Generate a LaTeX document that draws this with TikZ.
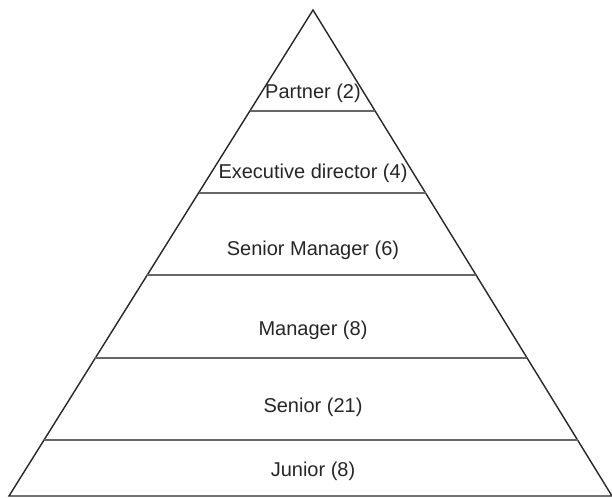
\documentclass[tikz,border=0pt]{standalone}
\usepackage{fontspec}
\setmainfont{Liberation Sans}
\usetikzlibrary{calc, positioning}

\begin{document}
\begin{tikzpicture}[x=0.5pt, y=-0.5pt, font=\normalsize, line width=0.7pt]
    \useasboundingbox (0,0) rectangle (612,498);
    \coordinate (apex) at (313,10);
    \coordinate (base-left) at (9,496);
    \coordinate (base-right) at (612,496);
    \draw[black!85] (base-left) -- (apex) -- (base-right) -- cycle;
    % level dividers
    \foreach \y/\lvl in {111/partner, 193/exec, 275/smanager, 358/manager, 440/senior} {
        \coordinate (\lvl-left) at ($(apex)!{(\y-10)/486}!(base-left)$);
        \coordinate (\lvl-right) at ($(apex)!{(\y-10)/486}!(base-right)$);
        \draw[black!60] (\lvl-left) -- (\lvl-right);
    }
    \node[text=black!85, inner sep=0pt] (partner) at (313,93) {Partner (2)};
    \node[text=black!85, inner sep=0pt] (exec) at (313,173) {Executive director (4)};
    \node[text=black!85, inner sep=0pt] (smanager) at (313,250) {Senior Manager (6)};
    \node[text=black!85, inner sep=0pt] (manager) at (313,330) {Manager (8)};
    \node[text=black!85, inner sep=0pt] (senior) at (313,407) {Senior (21)};
    \node[text=black!85, inner sep=0pt] (junior) at (313,471) {Junior (8)};
\end{tikzpicture}
\end{document}
